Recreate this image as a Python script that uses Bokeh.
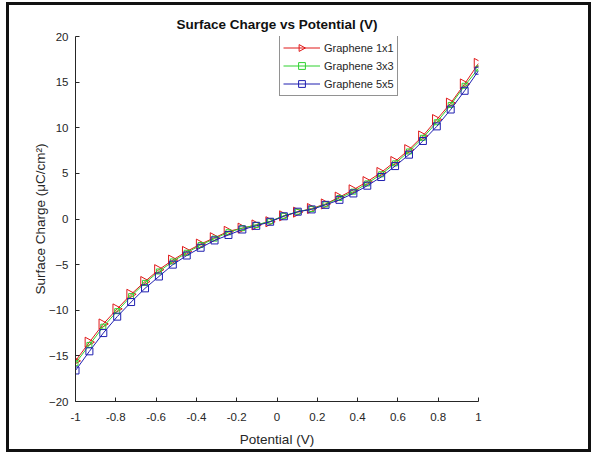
from bokeh.plotting import figure
from bokeh.models import Range1d, FixedTicker, Legend, LegendItem, CustomJS
from bokeh.embed import file_html
from bokeh.resources import INLINE

potential = [-1.0, -0.931, -0.862, -0.793, -0.724, -0.655, -0.586, -0.517, -0.448, -0.379,
             -0.310, -0.241, -0.172, -0.103, -0.034, 0.034, 0.103, 0.172, 0.241, 0.310,
             0.379, 0.448, 0.517, 0.586, 0.655, 0.724, 0.793, 0.862, 0.931, 1.0]

graphene_1x1 = [-15.55, -13.5, -11.5, -9.85, -8.25, -6.85, -5.55, -4.5, -3.55, -2.75,
                -2.05, -1.35, -1.0, -0.65, -0.3, 0.35, 0.75, 1.15, 1.65, 2.4,
                3.2, 4.1, 5.1, 6.3, 7.6, 9.1, 10.9, 12.7, 14.8, 17.05]

graphene_3x3 = [-15.8, -13.8, -11.8, -10.1, -8.45, -7.0, -5.75, -4.65, -3.7, -2.85,
                -2.15, -1.45, -1.0, -0.65, -0.25, 0.35, 0.8, 1.1, 1.6, 2.3,
                3.0, 3.9, 4.9, 6.1, 7.4, 8.9, 10.6, 12.5, 14.6, 16.5]

graphene_5x5 = [-16.6, -14.5, -12.5, -10.7, -9.1, -7.6, -6.3, -5.0, -4.0, -3.15,
                -2.35, -1.75, -1.15, -0.75, -0.3, 0.3, 0.8, 1.05, 1.55, 2.1,
                2.8, 3.65, 4.6, 5.8, 7.05, 8.55, 10.15, 12.0, 14.05, 16.25]

x_ticks = [-1, -0.8, -0.6, -0.4, -0.2, 0, 0.2, 0.4, 0.6, 0.8, 1]
x_tick_labels = ["-1", "-0.8", "-0.6", "-0.4", "-0.2", "0", "0.2", "0.4", "0.6", "0.8", "1"]
y_ticks = [-20, -15, -10, -5, 0, 5, 10, 15, 20]

series_names = ["Graphene 1x1", "Graphene 3x3", "Graphene 5x5"]

FONT = "Liberation Sans"
INK = "#262626"

p = figure(width=585, height=450, x_range=Range1d(-1, 1), y_range=Range1d(-20, 20),
           output_backend="svg", toolbar_location=None,
           min_border_left=66, min_border_right=116, min_border_top=31, min_border_bottom=54,
           title="Surface Charge vs Potential (V)")
p.styles = {"border": "3px solid #111111", "margin": "2px 0px 0px 6px"}

p.title.align = "center"
p.title.text_font = FONT
p.title.text_font_size = "13.5px"
p.title.text_font_style = "bold"
p.title.text_color = "#111111"
p.title.standoff = 9

p.grid.visible = False
p.outline_line_color = None
p.background_fill_color = "white"
p.border_fill_color = "white"

p.xaxis.ticker = FixedTicker(ticks=x_ticks)
p.xaxis.major_label_overrides = {t: l for t, l in zip(x_ticks, x_tick_labels)}
p.yaxis.ticker = FixedTicker(ticks=y_ticks)
p.xaxis.axis_label = "Potential (V)"
p.yaxis.axis_label = "Surface Charge (\u03bcC/cm\u00b2)"

for ax in (p.xaxis, p.yaxis):
    ax.axis_line_color = INK
    ax.axis_line_width = 1
    ax.major_tick_line_color = INK
    ax.major_tick_in = 4
    ax.major_tick_out = 0
    ax.minor_tick_line_color = None
    ax.major_label_text_font = FONT
    ax.major_label_text_font_size = "11.5px"
    ax.major_label_text_color = INK
    ax.axis_label_text_font = FONT
    ax.axis_label_text_font_size = "13.5px"
    ax.axis_label_text_font_style = "normal"
    ax.axis_label_text_color = INK
p.xaxis.major_label_standoff = 11
p.xaxis.axis_label_standoff = 8
p.yaxis.major_label_standoff = 7
p.yaxis.axis_label_standoff = -2

RED = "#e01818"
GREEN = "#2fd12f"
BLUE = "#1f1fb0"

# right-pointing open triangle marker
tri_right = CustomJS(code="""
export default (args, obj, data) => {
  const {ctx, i, r, visuals} = data
  ctx.moveTo(-0.85*r, -r)
  ctx.lineTo(r, 0)
  ctx.lineTo(-0.85*r, r)
  ctx.closePath()
  const line = visuals.line
  if (typeof line.apply === "function") {
    line.apply(ctx, i)
  } else {
    line.set_vectorize(ctx, i)
    ctx.stroke()
  }
}
""")

r1l = p.line(potential, graphene_1x1, line_color=RED, line_width=1)
r1m = p.scatter(potential, graphene_1x1, marker="@tri_right", defs={"@tri_right": tri_right},
                size=10, line_color=RED, fill_color=None, line_width=1)
r2l = p.line(potential, graphene_3x3, line_color=GREEN, line_width=1)
r2m = p.scatter(potential, graphene_3x3, marker="square", size=5,
                line_color=GREEN, fill_color=None, line_width=1)
r3l = p.line(potential, graphene_5x5, line_color=BLUE, line_width=1)
r3m = p.scatter(potential, graphene_5x5, marker="square", size=7,
                line_color=BLUE, fill_color=None, line_width=1)

legend = Legend(items=[LegendItem(label=series_names[0], renderers=[r1l, r1m]),
                       LegendItem(label=series_names[1], renderers=[r2l, r2m]),
                       LegendItem(label=series_names[2], renderers=[r3l, r3m])],
                location=(204, 305))
legend.border_line_color = INK
legend.border_line_width = 1
legend.background_fill_color = "white"
legend.background_fill_alpha = 1
legend.label_text_font = FONT
legend.label_text_font_size = "11px"
legend.label_text_color = INK
legend.glyph_width = 37
legend.glyph_height = 17
legend.label_height = 17
legend.spacing = 1
legend.padding = 3
legend.margin = 0
legend.label_standoff = 4
p.add_layout(legend)

open("out.html", "w").write(file_html(p, INLINE))
